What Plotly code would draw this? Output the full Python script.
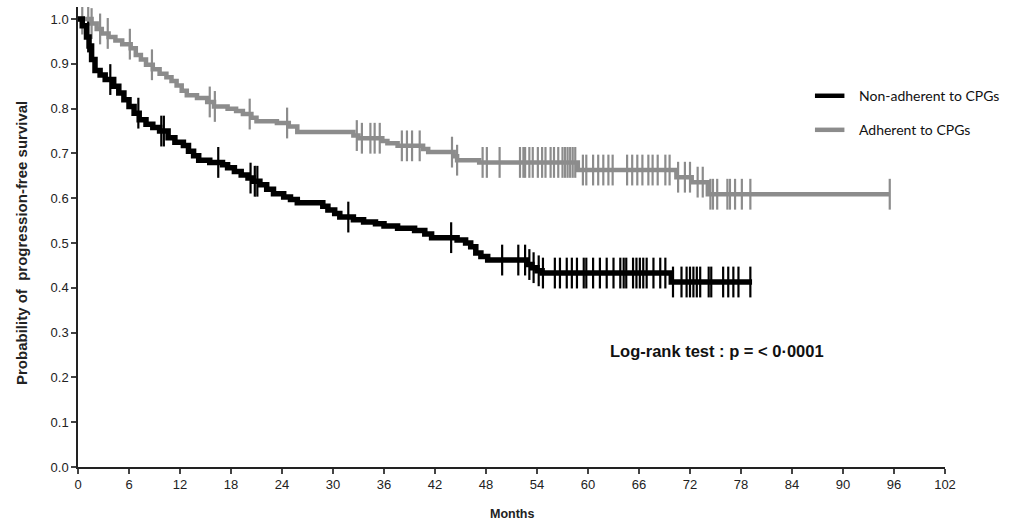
import numpy as np
import plotly.graph_objects as go

# Non-adherent to CPGs: KM step points (months, survival)
non_t = [0, 0.5, 1.0, 1.3, 1.6, 2.0, 2.6, 3.2, 4.2, 4.8, 5.4, 6.0, 6.6, 7.2, 8.0, 8.8, 9.6,
         10.6, 11.4, 12.4, 13.0, 13.6, 14.2, 15.5, 17.0, 17.6, 18.4, 19.2, 20.0, 20.6, 21.4,
         22.2, 23.0, 24.2, 25.0, 25.8, 28.8, 29.4, 30.2, 30.8, 32.4, 33.6, 35.0, 36.0, 37.6,
         39.6, 40.8, 41.6, 44.6, 45.6, 46.2, 46.8, 47.4, 48.2, 52.8, 53.4, 54.0, 54.6, 69.8, 79.3]
non_s = [1.0, 0.985, 0.96, 0.94, 0.91, 0.885, 0.875, 0.865, 0.85, 0.835, 0.82, 0.805, 0.79,
         0.775, 0.765, 0.758, 0.75, 0.735, 0.725, 0.718, 0.705, 0.695, 0.685, 0.68, 0.675,
         0.668, 0.66, 0.652, 0.645, 0.638, 0.63, 0.62, 0.61, 0.603, 0.597, 0.59, 0.582, 0.574,
         0.566, 0.558, 0.552, 0.547, 0.543, 0.538, 0.533, 0.528, 0.52, 0.512, 0.507, 0.5,
         0.492, 0.478, 0.47, 0.462, 0.452, 0.445, 0.438, 0.433, 0.413, 0.413]
non_cens = [1.2, 3.8, 7.1, 9.8, 10.1, 16.5, 20.3, 20.8, 21.1, 31.8, 43.9, 49.9, 51.8, 52.6,
            53.1, 53.6, 54.2, 54.7, 56.1, 56.7, 57.5, 58.1, 58.7, 59.5, 59.8, 60.6, 61.4,
            62.2, 63.0, 63.8, 64.2, 64.5, 65.3, 65.7, 66.1, 66.5, 66.9, 67.7, 68.5, 69.1,
            70.0, 71.0, 71.6, 72.0, 72.4, 72.8, 73.2, 74.2, 74.5, 75.9, 76.5, 77.1, 77.7, 79.1]

# Adherent to CPGs
adh_t = [0, 1.6, 2.2, 2.8, 3.6, 4.4, 5.2, 6.2, 6.8, 7.4, 8.0, 8.8, 9.6, 10.4, 11.0, 11.6,
         12.2, 12.8, 14.0, 15.2, 16.0, 17.6, 18.6, 19.4, 20.4, 21.0, 23.4, 24.8, 25.8, 32.4,
         33.0, 35.8, 36.4, 37.6, 40.6, 41.2, 44.2, 44.6, 47.2, 58.8, 70.4, 72.2, 74.1, 95.5]
adh_s = [1.0, 0.99, 0.978, 0.968, 0.96, 0.952, 0.944, 0.935, 0.92, 0.91, 0.898, 0.888, 0.878,
         0.87, 0.862, 0.852, 0.84, 0.83, 0.824, 0.815, 0.805, 0.8, 0.795, 0.788, 0.78, 0.772,
         0.768, 0.76, 0.748, 0.74, 0.734, 0.728, 0.723, 0.717, 0.71, 0.703, 0.694, 0.685,
         0.68, 0.663, 0.647, 0.636, 0.609, 0.609]
adh_cens = [0.5, 1.2, 1.6, 2.6, 3.5, 6.1, 8.7, 15.5, 16.1, 20.2, 24.6, 32.8, 33.4, 34.4, 34.9,
            35.5, 38.1, 38.7, 39.3, 40.2, 44.0, 44.6, 47.6, 48.1, 49.6, 52.0, 52.4, 52.6, 53.1,
            53.5, 54.1, 54.6, 55.0, 55.6, 56.0, 56.5, 57.0, 57.3, 57.6, 57.9, 58.2, 58.5, 59.4,
            59.8, 60.6, 61.2, 61.8, 62.4, 62.9, 64.6, 65.2, 65.8, 66.4, 67.1, 67.6, 68.2, 69.1,
            69.6, 70.6, 71.4, 72.0, 72.9, 73.5, 74.4, 74.7, 75.2, 76.4, 76.7, 77.3, 78.1, 79.1,
            95.5]

x_ticks = list(range(0, 103, 6))
y_ticks = [round(v * 0.1, 1) for v in range(11)]


def surv_at(times, surv, pts):
    idx = np.searchsorted(np.array(times), np.array(pts), side="right") - 1
    return np.array(surv)[idx]


fig = go.Figure()
for t, s, c, col, w in [(adh_t, adh_s, adh_cens, "#8c8c8c", 4.5),
                        (non_t, non_s, non_cens, "#000000", 5.5)]:
    fig.add_trace(go.Scatter(x=t, y=s, mode="lines", line=dict(color=col, width=w, shape="hv"),
                             showlegend=False, hoverinfo="skip"))
    fig.add_trace(go.Scatter(x=c, y=surv_at(t, s, c), mode="markers",
                             marker=dict(symbol="line-ns", size=22,
                                         line=dict(color=col, width=2.2)),
                             showlegend=False, hoverinfo="skip"))

# legend drawn by hand
for yy, col, txt in [(0.807, "#000000", "Non-adherent to CPGs"), (0.733, "#8c8c8c", "Adherent to CPGs")]:
    fig.add_shape(type="line", xref="paper", yref="paper", x0=0.850, x1=0.884, y0=yy, y1=yy,
                  line=dict(color=col, width=4.5))
    fig.add_annotation(xref="paper", yref="paper", x=0.898, y=yy, text=txt, showarrow=False,
                       xanchor="left", yanchor="middle",
                       font=dict(family="Lato, Open Sans, sans-serif", size=14, color="#111"))

fig.add_annotation(x=75.2, y=0.258, text="<b>Log-rank test : p = < 0·0001</b>", showarrow=False,
                   font=dict(family="Liberation Sans, Arial", size=16.5, color="#111"))

fig.add_annotation(xref="paper", yref="paper", x=0.5, y=-0.102, text="<b>Months</b>",
                   showarrow=False, xanchor="center", yanchor="middle",
                   font=dict(family="Liberation Sans, Arial", size=12.5, color="#222"))
fig.add_annotation(xref="paper", yref="paper", x=-0.0646, y=0.487, textangle=-90,
                   text="<b>Probability of  progression-free survival</b>",
                   showarrow=False, xanchor="center", yanchor="middle",
                   font=dict(family="Liberation Sans, Arial", size=15, color="#222"))

axis_font = dict(family="Liberation Sans, Arial", size=13, color="#222")
fig.update_xaxes(range=[0, 102], tickvals=x_ticks, ticks="outside", ticklen=5, tickwidth=1.5,
                 showline=True, linecolor="#222", linewidth=1.5, showgrid=False, zeroline=False,
                 tickfont=axis_font, automargin=False)
fig.update_yaxes(range=[0, 1.027], tickvals=y_ticks, tickformat=".1f", ticks="outside", ticklen=5,
                 tickwidth=1.5, showline=True, linecolor="#222", linewidth=1.5, showgrid=False,
                 zeroline=False, tickfont=axis_font, automargin=False)
fig.update_layout(width=1018, height=525, plot_bgcolor="white", paper_bgcolor="white",
                  margin=dict(l=78, r=73, t=7, b=58), hovermode=False)

fig.write_html("out.html", config={"displayModeBar": False},
               post_script="document.body.style.margin='0';")
